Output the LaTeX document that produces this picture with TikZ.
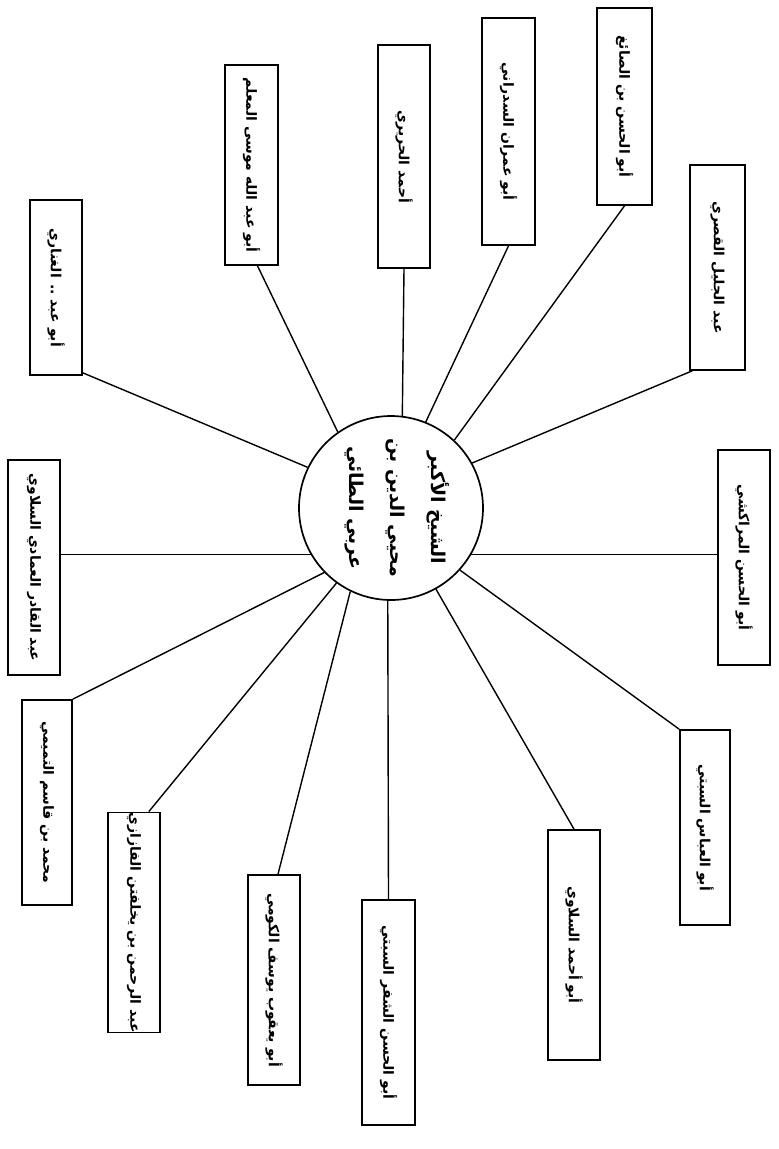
\documentclass[tikz,border=0pt]{standalone}
\usepackage{fontspec}
\usepackage{graphicx}
\usetikzlibrary{calc}
\TeXXeTstate=1
\newfontfamily\arabicfont[Script=Arabic]{DejaVu Sans}
\newcommand{\artext}[1]{\rotatebox{-90}{\arabicfont\bfseries\beginR #1\endR}}
\begin{document}
\begin{tikzpicture}[x=1pt,y=-1pt,
  namebox/.style={draw, line width=1.7pt, inner sep=0pt, minimum width=52pt, font=\fontsize{14}{16}\selectfont},
  link/.style={line width=1.4pt}]
\useasboundingbox (0,0) rectangle (779,1149);
\fill[white] (0,0) rectangle (779,1149);

\node[draw, circle, line width=1.7pt, minimum size=184pt, inner sep=0pt] (c) at (391,508) {};
\node[font=\fontsize{19}{41}\selectfont] (ct) at (399,508)
  {\rotatebox{-90}{\arabicfont\bfseries\begin{tabular}{c}\beginR الشيخ الأكبر\endR\\ \beginR محيي الدين بن\endR\\ \beginR عربي الطائي\endR\end{tabular}}};

\node[namebox, minimum height=197pt, minimum width=55pt] (b1) at (624.5,106.5) {\artext{أبو الحسن بن الصائغ}};
\node[namebox, minimum height=227pt, minimum width=53pt] (b2) at (508.5,131.5) {\artext{أبو عمران السدراني}};
\node[namebox, minimum height=223pt] (b3) at (404,156.5) {\artext{أحمد الحريري}};
\node[namebox, minimum height=200pt, minimum width=53pt] (b4) at (251.5,165) {\artext{أبو عبد الله موسى المعلم}};
\node[namebox, minimum height=175pt] (b5) at (56,287.5) {\artext{أبو عبد .. الغناري}};
\node[namebox, minimum height=205pt, minimum width=55pt] (b6) at (717.5,267.5) {\artext{عبد الجليل القصري}};
\node[namebox, minimum height=215pt] (b7) at (744,557.5) {\artext{أبو الحسن المراكشي}};
\node[namebox, minimum height=195pt, minimum width=50pt] (b8) at (705,827.5) {\artext{أبو العباس السبتي}};
\node[namebox, minimum height=230pt] (b9) at (574,945) {\artext{أبو أحمد السلاوي}};
\node[namebox, minimum height=225pt, minimum width=53pt] (b10) at (388.5,1012.5) {\artext{أبو الحسن الشفر السبتي}};
\node[namebox, minimum height=210pt] (b11) at (274,980) {\artext{أبو يعقوب يوسف الكومي}};
\node[namebox, minimum height=215pt] (b12) at (134,922.5) {\artext{عبد الرحمن بن يخلفتن الفازازي}};
\node[namebox, minimum height=205pt, minimum width=50pt] (b13) at (47,802.5) {\artext{محمد بن قاسم التميمي}};
\node[namebox, minimum height=215pt] (b14) at (34,567.5) {\artext{عبد القادر العمادي السلاوي}};

\draw[link] (b1.south) -- (c.47);
\draw[link] (b2.south) -- (c.68);
\draw[link] (b3.south) -- (c.83);
\draw[link] ($(b4.south)+(6,0)$) -- (c.125);
\draw[link] ($(b5.south east)+(0,-3)$) -- (c.154);
\draw[link] ($(b6.south west)+(3,0)$) -- (c.29);
\draw[link] (b7.west|-c.-30) -- (c.-30);
\draw[link] (b8.north west) -- (c.-42);
\draw[link] (b9.north) -- (c.-61);
\draw[link] (b10.north) -- (c.-92);
\draw[link] ($(b11.north)+(4,0)$) -- (c.-116);
\draw[link] ($(b12.north east)+(-12,0)$) -- (c.-126);
\draw[link] (b13.north east) -- (c.-136);
\draw[link] (b14.east|-c.210) -- (c.210);
\end{tikzpicture}
\end{document}
